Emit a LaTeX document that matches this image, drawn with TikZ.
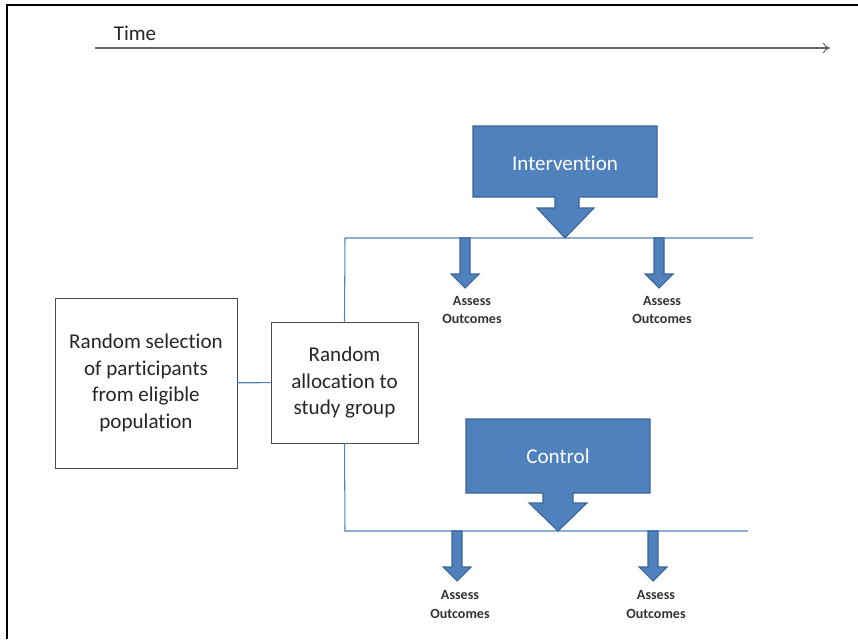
\documentclass[tikz,border=0pt]{standalone}
\usepackage{fontspec}
\setmainfont{Carlito}[Ligatures={NoCommon}]
\usetikzlibrary{arrows.meta}
\definecolor{officeblue}{HTML}{4F81BD}
\definecolor{officeedge}{HTML}{3A6496}
\tikzset{
  frame/.style={line width=1.2pt, black},
  timeline/.style={gray!80!black, line width=0.6pt, -{To[length=4pt,width=6pt]}},
  plainbox/.style={draw=black!70, line width=0.5pt, align=center, text=black!85,
    font=\fontsize{12}{15.2}\selectfont},
  flow/.style={officeblue, line width=0.6pt},
  block/.style={fill=officeblue, draw=officeedge, line width=0.6pt},
  blocktext/.style={text=white, font=\fontsize{12}{15}\selectfont},
  assess/.style={align=center, text=black!80, inner sep=0pt,
    font=\fontsize{8}{10.8}\selectfont\bfseries}
}
\begin{document}
\begin{tikzpicture}[x=0.02cm, y=-0.02cm]
      \useasboundingbox (0,0) rectangle (858,639);
      \draw[frame] (858,5) -- (7,5) -- (7,639);
      \node[text=black!85, font=\fontsize{12}{15}\selectfont] (time) at (135,33) {Time};
      \coordinate (t0) at (95,48);
      \coordinate (t1) at (830,48);
      \draw[timeline] (t0) -- (t1);
      \node[plainbox, minimum width=3.64cm, minimum height=3.4cm] (sel) at (146,383)
        {Random selection\\of participants\\from eligible\\population};
      \node[plainbox, minimum width=2.94cm, minimum height=2.42cm] (alloc) at (344.5,382.5)
        {Random\\allocation to\\study group};
      \coordinate (tl) at (345,238);
      \coordinate (tr) at (753,238);
      \coordinate (bl) at (345,531);
      \coordinate (br) at (748,531);
      \begin{scope}[flow]
        \draw (sel) -- (alloc);
        \draw (alloc.north) -- (tl) -- (tr);
        \draw (alloc.south) -- (bl) -- (br);
      \end{scope}
      \draw[block] (473,126) -- (657,126) -- (657,197) -- (579,197) -- (579,208)
        -- (594,208) -- (565,238) -- (537,208) -- (555,208) -- (555,197)
        -- (473,197) -- cycle;
      \node[blocktext] (inter) at (565,163) {Intervention};
      \draw[block] (466,419) -- (650,419) -- (650,493) -- (573,493) -- (573,503)
        -- (587,503) -- (558,531) -- (529,503) -- (543,503) -- (543,493)
        -- (466,493) -- cycle;
      \node[blocktext] (ctrl) at (558,456) {Control};
      \foreach \x/\y in {465/238, 659/238, 457/531, 653/531}
        \draw[block] (\x-5,\y) -- (\x+5,\y) -- (\x+5,\y+36) -- (\x+14,\y+36)
          -- (\x,\y+50) -- (\x-14,\y+36) -- (\x-5,\y+36) -- cycle;
      \node[assess] (a1) at (472,310) {Assess\\Outcomes};
      \node[assess] (a2) at (662,310) {Assess\\Outcomes};
      \node[assess] (a3) at (460,604) {Assess\\Outcomes};
      \node[assess] (a4) at (656,604) {Assess\\Outcomes};
    \end{tikzpicture}
\end{document}
